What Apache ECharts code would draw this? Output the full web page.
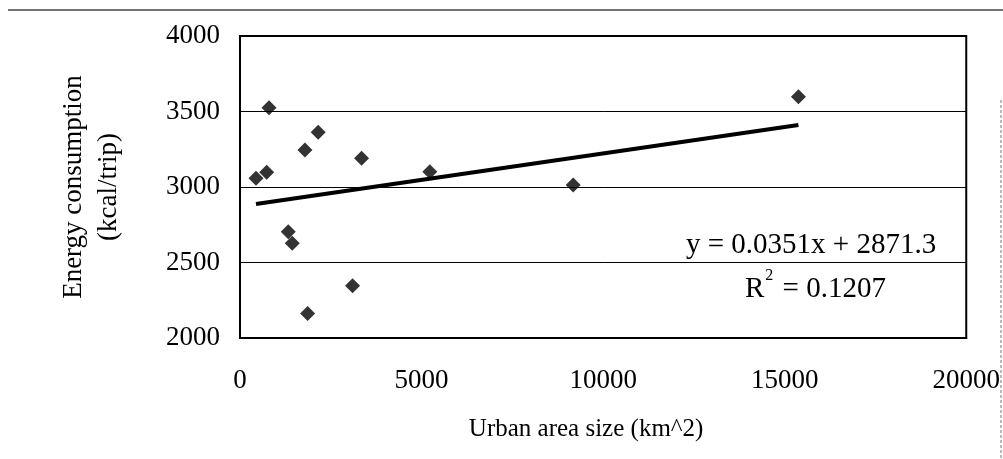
<!DOCTYPE html>
<html>
<head>
<meta charset="utf-8">
<script src="https://cdn.jsdelivr.net/npm/echarts@6/dist/echarts.min.js"></script>
<style>
  html, body { margin: 0; padding: 0; background: #fff; }
  #chart { width: 1003px; height: 459px; }
</style>
</head>
<body>
<div id="chart"></div>
<script>
// urban area size (km^2) and energy consumption (kcal/trip)
var areaSize = [440, 735, 798, 1329, 1439, 1788, 1862, 2154, 3100, 3348, 5227, 9175, 15378];
var energy = [3058, 3097, 3525, 2704, 2627, 3245, 2163, 3362, 2346, 3190, 3101, 3013, 3598];

// linear trend line ends
var trendX = [440, 15378];
var trendY = [2887, 3411];

var xTicks = [0, 5000, 10000, 15000, 20000];
var yTicks = [2000, 2500, 3000, 3500, 4000];

var eqLine = 'y = 0.0351x + 2871.3';
var r2Value = ' = 0.1207';

var font = '"Liberation Serif", "Times New Roman", serif';

var points = [];
for (var i = 0; i < areaSize.length; i++) {
  points.push([areaSize[i], energy[i]]);
}
var trend = [];
for (var j = 0; j < trendX.length; j++) {
  trend.push([trendX[j], trendY[j]]);
}

var myChart = echarts.init(document.getElementById('chart'));
var option = {
  backgroundColor: '#fff',
  animation: false,
  textStyle: { fontFamily: font, color: '#000' },
  grid: {
    left: 240,
    right: 35,
    top: 36,
    bottom: 121,
    show: true,
    borderColor: '#000',
    borderWidth: 2,
    backgroundColor: 'transparent'
  },
  xAxis: {
    type: 'value',
    min: xTicks[0],
    max: xTicks[xTicks.length - 1],
    interval: 5000,
    name: 'Urban area size (km^2)',
    nameLocation: 'middle',
    nameGap: 79,
    nameTextStyle: {
      fontFamily: font, fontSize: 25, color: '#000',
      padding: [0, 34, 0, 0]
    },
    axisLine: { show: true, lineStyle: { color: '#000', width: 2 } },
    axisTick: { show: false },
    splitLine: { show: false },
    axisLabel: {
      fontFamily: font, fontSize: 27, color: '#000', margin: 29,
      formatter: function (v) { return String(v); }
    }
  },
  yAxis: {
    type: 'value',
    min: yTicks[0],
    max: yTicks[yTicks.length - 1],
    interval: 500,
    name: 'Energy consumption\n(kcal/trip)',
    nameLocation: 'middle',
    nameRotate: 90,
    nameGap: 114,
    nameTextStyle: {
      fontFamily: font, fontSize: 27, color: '#000', lineHeight: 35, align: 'center'
    },
    axisLine: { show: true, lineStyle: { color: '#000', width: 2 } },
    axisTick: { show: false },
    splitLine: { show: true, lineStyle: { color: '#000', width: 1 } },
    axisLabel: {
      fontFamily: font, fontSize: 27, color: '#000', margin: 20,
      formatter: function (v) { return String(v); }
    }
  },
  series: [
    {
      type: 'line',
      data: trend,
      showSymbol: false,
      symbol: 'none',
      lineStyle: { color: '#000', width: 4 },
      z: 3
    },
    {
      type: 'scatter',
      data: points,
      symbol: 'diamond',
      symbolSize: 15,
      itemStyle: { color: '#000' },
      z: 4
    }
  ],
  graphic: [
    {
      type: 'text',
      left: 686,
      top: 231,
      z: 10,
      style: { text: eqLine, font: '29px ' + font, fill: '#000' }
    },
    {
      type: 'text',
      left: 745,
      top: 268,
      z: 10,
      style: {
        text: '{r|R}{s|2}{r|' + r2Value + '}',
        fill: '#000',
        rich: {
          r: { fontFamily: font, fontSize: 29, lineHeight: 36, fill: '#000', verticalAlign: 'bottom' },
          s: { fontFamily: font, fontSize: 16, lineHeight: 16, fill: '#000', verticalAlign: 'top', padding: [0, 2, 0, 1] }
        }
      }
    },
    // scan frame around the figure
    {
      type: 'line',
      shape: { x1: 8, y1: 10, x2: 1003, y2: 10 },
      style: { stroke: '#444', lineWidth: 1.5 }
    },
    {
      type: 'line',
      shape: { x1: 1001, y1: 100, x2: 1001, y2: 459 },
      style: { stroke: '#777', lineWidth: 1, lineDash: [3, 2] }
    }
  ]
};
myChart.setOption(option);
window.onresize = myChart.resize;
</script>
</body>
</html>
